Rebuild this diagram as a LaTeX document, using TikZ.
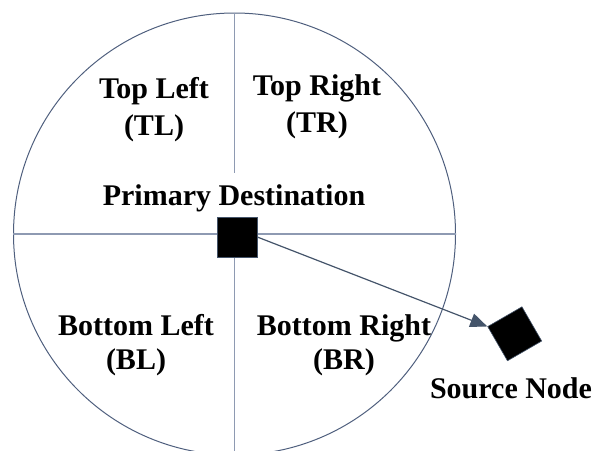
\documentclass[tikz,border=0pt]{standalone}
\usepackage{fontspec}
\setmainfont{Liberation Serif}
\usetikzlibrary{arrows.meta}
\definecolor{rim}{HTML}{4F5F7E}
\definecolor{axis}{HTML}{8E9AB2}
\definecolor{link}{HTML}{44546A}

\begin{document}
\begin{tikzpicture}[x=1pt,y=-1pt,
    quad/.style={align=center,anchor=base,font=\bfseries\fontsize{30}{37}\selectfont},
    quadlow/.style={quad,font=\bfseries\fontsize{30}{34}\selectfont},
    box/.style={draw=link,line width=.6pt,fill=black,minimum size=40pt,inner sep=0pt}]
    \path[use as bounding box] (0,0) rectangle (593,450);
    \node[circle,draw=rim,line width=1pt,minimum size=442pt,inner sep=0pt] (ring) at (234.5,234) {};
    % base of a two-line label sits on its last line
    \node[quad] (tl) at (154,135) {Top Left\\(TL)};
    \node[quad] (tr) at (317,132) {Top Right\\(TR)};
    \node[quadlow] (bl) at (136,369) {Bottom Left\\(BL)};
    \node[quadlow] (br) at (344,369) {Bottom Right\\(BR)};
    \node[quad,inner sep=11pt] (pd) at (234,205) {Primary Destination};
    \draw[axis,line width=1.5pt] (ring.west) -- (ring.east);
    \draw[axis,line width=1.5pt] (ring.north) -- (ring.north |- pd.north);
    \draw[axis,line width=1.5pt] (ring.center) -- (ring.south);
    \node[box] (dst) at (237,237) {};
    \node[box,minimum size=39.5pt,rotate=30] (src) at (514.7,333.8) {};
    \node[quad] (srclbl) at (511,398) {Source Node};
    \draw[link,line width=1.2pt,-{Triangle[length=17pt,width=14pt]}] (dst.east) -- (src.north west);
  \end{tikzpicture}
\end{document}
